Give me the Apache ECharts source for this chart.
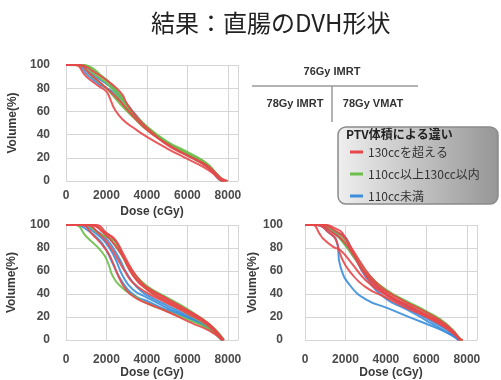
<!DOCTYPE html>
<html>
<head>
<meta charset="utf-8">
<script src="https://cdn.jsdelivr.net/npm/echarts@6/dist/echarts.min.js"></script>
<style>
  html, body { margin: 0; padding: 0; background: #fff; }
  #chart { width: 501px; height: 380px; }
</style>
</head>
<body>
<div id="chart"></div>
<script>
// Rectal DVH curves: [dose (cGy), volume (%)], grouped by plan and PTV volume class.
const groupNames = ['130ccを超える', '110cc以上130cc以内', '110cc未満'];
const groupColors = ['#e8474a', '#6cbf4a', '#3a8edb'];
const xTicks = [0, 2000, 4000, 6000, 8000];
const yTicks = [0, 20, 40, 60, 80, 100];

// 76Gy IMRT
const imrt76Over130 = [
  [[0,100],[700,100],[1300,95],[2000,87],[2500,80],[2800,74],[3000,67],[3500,55],[4000,46],[4500,38],[5000,31],[5500,26],[6000,22],[6500,18],[7000,13],[7400,7],[7700,2],[8000,0]],
  [[0,100],[450,100],[1000,90],[1600,82],[2000,77],[2200,70],[2400,62],[2800,53],[3400,45],[4000,38],[5000,28],[6000,19],[6800,12],[7300,6],[7600,1],[7800,0]],
  [[0,100],[600,100],[1200,92],[2000,80],[2600,70],[3100,60],[4000,44],[5000,32],[6000,22],[7000,12],[7600,2],[7900,0]]
];
const imrt76Mid = [
  [[0,100],[900,100],[1500,93],[2000,87],[2500,78],[2900,68],[3300,59],[4000,46],[5000,33],[6000,24],[6800,17],[7200,11],[7600,3],[7900,0]],
  [[0,100],[700,100],[1400,92],[2100,83],[2600,72],[3000,63],[4000,45],[5000,33],[6000,23],[7000,14],[7600,3],[7900,0]],
  [[0,100],[1000,99],[1800,90],[2300,82],[2700,74],[3200,61],[4000,47],[5000,34],[6000,25],[6900,16],[7400,7],[7800,0]],
  [[0,100],[600,100],[1300,90],[2000,80],[2400,72],[2800,64],[3500,52],[4000,44],[5000,32],[6000,22],[7000,12],[7700,0]]
];
const imrt76Under110 = [
  [[0,100],[500,100],[1100,91],[1600,84],[2000,80],[2300,77],[2700,69],[3200,58],[4000,45],[5000,32],[6000,22],[7000,12],[7600,1],[7800,0]],
  [[0,100],[600,100],[1200,93],[1800,86],[2300,80],[2800,70],[3400,58],[4000,46],[5000,33],[6000,23],[7000,12],[7700,0]]
];

// 78Gy IMRT
const imrt78Over130 = [
  [[0,100],[1300,100],[1800,94],[2200,87],[2600,78],[3000,67],[3450,53],[4000,44],[4500,38],[5400,30],[6500,20],[7300,10],[7750,0]],
  [[0,100],[700,100],[1400,90],[2000,78],[2300,68],[2600,55],[3000,43],[3500,36],[4000,32],[5100,24],[6200,15],[7100,8],[7750,0]],
  [[0,100],[1500,100],[2000,93],[2400,88],[2800,76],[3200,63],[3600,53],[4000,46],[5000,36],[6000,26],[7000,15],[7500,6],[7800,0]],
  [[0,100],[1000,100],[1600,93],[2100,83],[2500,72],[2900,60],[3300,50],[4000,41],[5000,32],[6000,23],[7000,13],[7700,0]],
  [[0,100],[1200,100],[1800,95],[2200,90],[2500,85],[2800,74],[3100,62],[3500,52],[4000,45],[5000,35],[6000,25],[7000,14],[7600,3],[7800,0]]
];
const imrt78Mid = [
  [[0,100],[450,100],[1000,90],[1800,76],[2100,66],[2300,56],[2800,45],[3500,37],[4000,32],[5000,25],[6000,18],[7000,10],[7700,0]],
  [[0,100],[1300,100],[1900,93],[2400,83],[2900,70],[3400,57],[4000,47],[5000,37],[6000,27],[7000,15],[7500,7],[7800,0]],
  [[0,100],[900,100],[1600,93],[2200,88],[2400,86],[2700,76],[3200,60],[4000,44],[5000,33],[6000,23],[7000,12],[7700,0]]
];
const imrt78Under110 = [
  [[0,100],[500,100],[1100,95],[1650,87],[2000,78],[2300,67],[2800,50],[3450,38],[4000,34],[4600,29],[5500,23],[6200,18],[7350,8],[7800,0]],
  [[0,100],[1000,100],[1500,95],[2000,88],[2600,72],[3000,58],[3500,46],[4000,39],[5000,30],[6000,21],[7000,11],[7750,0]],
  [[0,100],[800,100],[1300,95],[1900,86],[2400,72],[2800,56],[3300,44],[4000,37],[5000,28],[6000,20],[7000,11],[7700,0]]
];

// 78Gy VMAT
const vmat78Over130 = [
  [[0,100],[400,100],[700,93],[900,88],[1400,81],[1750,78],[2250,68],[3000,52],[4000,39],[5000,30],[6000,21],[7000,11],[7600,2],[7800,0]],
  [[0,100],[600,100],[1200,93],[1500,88],[1800,72],[2200,60],[3000,46],[4000,37],[5000,28],[6000,20],[7000,10],[7700,0]],
  [[0,100],[1050,100],[1500,97],[1850,93],[2350,76],[3050,55],[4000,40],[5200,29],[6300,19],[7100,10],[7650,0]],
  [[0,100],[900,100],[1400,96],[1900,90],[2300,80],[2800,66],[3400,52],[4000,43],[5000,33],[6000,24],[7000,13],[7700,0]],
  [[0,100],[700,100],[1300,94],[1900,86],[2400,74],[3000,58],[4000,41],[5000,31],[6000,22],[7000,12],[7700,0]]
];
const vmat78Mid = [
  [[0,100],[700,100],[1500,92],[2000,82],[2500,70],[3000,58],[4000,43],[5000,33],[6000,24],[7000,13],[7650,1],[7800,0]],
  [[0,100],[900,100],[1600,93],[2100,84],[2600,70],[3200,56],[4000,44],[5000,34],[6000,25],[7000,14],[7700,0]]
];
const vmat78Under110 = [
  [[0,100],[600,100],[1200,93],[1550,87],[1750,64],[2250,47],[3050,35],[4050,28],[5150,20],[6300,12],[7300,4],[7650,0]],
  [[0,100],[500,100],[1500,93],[1900,91],[2400,75],[3000,55],[4000,36],[5000,27],[6000,17],[7000,7],[7600,0]],
  [[0,100],[800,100],[1400,94],[1900,85],[2500,70],[3100,55],[4000,40],[5000,29],[6000,19],[7000,9],[7600,0]]
];

// panel -> [over130, mid, under110]
const panels = [
  [imrt76Over130, imrt76Mid, imrt76Under110],
  [imrt78Over130, imrt78Mid, imrt78Under110],
  [vmat78Over130, vmat78Mid, vmat78Under110]
];

const FONT = '"Liberation Sans", Arial, sans-serif';
const JP = '"Noto Sans CJK JP", "Noto Sans", sans-serif';

const grids = [
  { left: 66, top: 65, width: 172, height: 116 },
  { left: 66, top: 225, width: 172, height: 116 },
  { left: 305, top: 225, width: 172, height: 116 }
];
const xLabelMargin = [9, 14, 14];
const xNameGap = [25, 26, 26];
const yLabelMargin = [16, 16, 22];
const yNameGap = [47, 48, 43];

const xAxes = grids.map((g, i) => ({
  gridIndex: i, type: 'value', min: 0, max: 8500, interval: 2000,
  name: 'Dose (cGy)', nameLocation: 'middle', nameGap: xNameGap[i],
  nameTextStyle: { fontFamily: FONT, fontSize: 12, fontWeight: 'bold', color: '#3a3a3a' },
  axisLine: { show: false }, axisTick: { show: false },
  axisLabel: {
    margin: xLabelMargin[i], fontFamily: FONT, fontSize: 12, fontWeight: 'bold', color: '#4a4a4a',
    showMaxLabel: false,
    formatter: v => (xTicks.indexOf(v) >= 0 ? String(v) : '')
  },
  splitLine: { show: true, lineStyle: { color: '#d6d6d6', width: 1 } }
}));

const yAxes = grids.map((g, i) => ({
  gridIndex: i, type: 'value', min: 0, max: 100, interval: 20,
  name: 'Volume(%)', nameLocation: 'middle', nameGap: yNameGap[i], nameRotate: 90,
  nameTextStyle: { fontFamily: FONT, fontSize: 12, fontWeight: 'bold', color: '#3a3a3a' },
  axisLine: { show: true, lineStyle: { color: '#d6d6d6' } }, axisTick: { show: false },
  axisLabel: {
    margin: yLabelMargin[i], fontFamily: FONT, fontSize: 12, fontWeight: 'bold', color: '#4a4a4a',
    formatter: v => (yTicks.indexOf(v) >= 0 ? String(v) : '')
  },
  splitLine: { show: true, lineStyle: { color: '#d6d6d6', width: 1 } }
}));

// blue first, then green, red on top
const series = [];
panels.forEach((groups, p) => {
  [2, 1, 0].forEach(gi => {
    groups[gi].forEach(curve => {
      series.push({
        type: 'line', name: groupNames[gi],
        xAxisIndex: p, yAxisIndex: p,
        data: curve, showSymbol: false, symbol: 'none',
        smooth: 0.5, clip: true,
        lineStyle: { width: 2, color: groupColors[gi], opacity: 0.9 },
        itemStyle: { color: groupColors[gi] },
        silent: true, animation: false
      });
    });
  });
});

const chart = echarts.init(document.getElementById('chart'), null, { renderer: 'canvas' });
chart.setOption({
  backgroundColor: '#ffffff',
  animation: false,
  title: {
    text: '結果：直腸のDVH形状',
    left: 146, top: 6,
    textStyle: { fontFamily: JP, fontSize: 24, fontWeight: 'normal', color: '#222' }
  },
  grid: grids,
  xAxis: xAxes,
  yAxis: yAxes,
  legend: {
    data: groupNames,
    orient: 'vertical', left: 345, top: 140,
    icon: 'rect', itemWidth: 13, itemHeight: 3, itemGap: 8,
    selectedMode: false, z: 10,
    textStyle: { fontFamily: JP, fontSize: 12, color: '#333', lineHeight: 14 }
  },
  graphic: [
    {
      type: 'rect', z: 1,
      shape: { x: 338, y: 127, width: 160, height: 77, r: 8 },
      style: {
        fill: new echarts.graphic.LinearGradient(0, 0, 1, 0, [
          { offset: 0, color: '#efefef' },
          { offset: 1, color: '#969696' }
        ]),
        stroke: '#8a8a8a', lineWidth: 1.5
      }
    },
    {
      type: 'text', z: 2, left: 346, top: 128,
      style: { text: 'PTV体積による違い', font: 'bold 12px ' + JP, fill: '#222' }
    },
    {
      type: 'line', z: 2,
      shape: { x1: 252, y1: 86, x2: 418, y2: 86 },
      style: { stroke: '#9a9a9a', lineWidth: 1.5 }
    },
    {
      type: 'line', z: 2,
      shape: { x1: 332, y1: 86, x2: 332, y2: 122 },
      style: { stroke: '#9a9a9a', lineWidth: 1.5 }
    },
    {
      type: 'text', z: 2, x: 332, y: 72,
      style: { text: '76Gy IMRT', font: 'bold 11px ' + FONT, fill: '#333', textAlign: 'center', textVerticalAlign: 'middle' }
    },
    {
      type: 'text', z: 2, x: 295, y: 104,
      style: { text: '78Gy IMRT', font: 'bold 11px ' + FONT, fill: '#333', textAlign: 'center', textVerticalAlign: 'middle' }
    },
    {
      type: 'text', z: 2, x: 373, y: 104,
      style: { text: '78Gy VMAT', font: 'bold 11px ' + FONT, fill: '#333', textAlign: 'center', textVerticalAlign: 'middle' }
    }
  ],
  series: series
});
</script>
</body>
</html>
